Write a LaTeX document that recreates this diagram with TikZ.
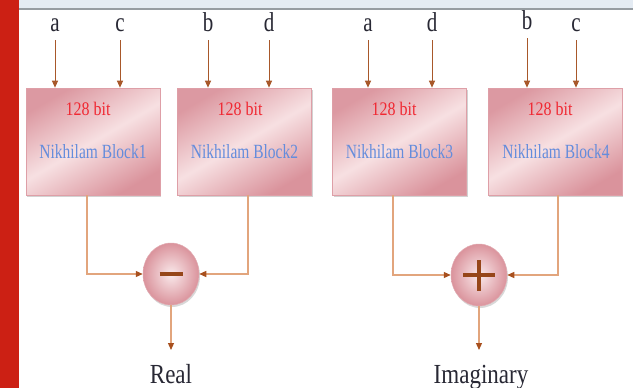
\documentclass[tikz,border=0pt]{standalone}
\usepackage{graphicx}
\usepackage{fontspec}
\setmainfont{Liberation Serif}
\usetikzlibrary{arrows.meta,shapes.geometric,shadows}

\definecolor{barred}{RGB}{204,32,20}
\definecolor{bandblue}{RGB}{228,235,243}
\definecolor{bandline}{RGB}{150,156,162}
\definecolor{inbrown}{RGB}{168,88,42}
\definecolor{connline}{RGB}{226,165,125}
\definecolor{tipbrown}{RGB}{168,80,30}
\definecolor{boxlight}{RGB}{247,224,226}
\definecolor{boxdark}{RGB}{214,135,145}
\definecolor{bitred}{RGB}{240,40,50}
\definecolor{blockblue}{RGB}{100,140,220}
\definecolor{labelink}{RGB}{40,40,52}
\definecolor{signbrown}{RGB}{150,70,25}

% vertically stretched text, as set in the drawing
\newcommand\tallt[2][1.3]{\scalebox{1}[#1]{#2}}

\tikzset{
  blockbox/.style={draw=boxdark!80, line width=0.6pt, minimum width=134pt,
    minimum height=107pt, inner sep=0pt,
    top color=boxdark!85, bottom color=boxdark!90, middle color=boxlight,
    shading angle=30,
    drop shadow={shadow xshift=1pt, shadow yshift=-2pt, opacity=0.35}},
  opcircle/.style={ellipse, minimum width=56pt, minimum height=62pt, inner sep=0pt,
    draw=boxdark!70, line width=0.5pt, shading=radial,
    inner color=boxlight!70!white, outer color=boxdark!90,
    drop shadow={shadow xshift=1pt, shadow yshift=-2pt, opacity=0.3}},
  inlabel/.style={anchor=base, inner sep=0pt, text=labelink,
    font=\fontsize{21}{21}\selectfont},
  outlabel/.style={anchor=base, inner sep=0pt, text=labelink,
    font=\fontsize{23}{23}\selectfont},
  bittext/.style={anchor=base, inner sep=0pt, text=bitred,
    font=\fontsize{16}{16}\selectfont},
  blocktext/.style={anchor=base, inner sep=0pt, text=blockblue,
    font=\fontsize{15.5}{15.5}\selectfont},
  inarrow/.style={draw=inbrown, line width=1pt,
    -{Triangle[length=7pt,width=6pt]}, shorten <=9pt},
  conn/.style={draw=connline, line width=1.2pt,
    -{Triangle[length=7pt,width=6pt,color=tipbrown]}},
  signbar/.style={draw=signbrown, line width=4pt},
}

\begin{document}
\begin{tikzpicture}[x=1pt,y=-1pt]
\useasboundingbox (0,0) rectangle (633,388);
\fill[white] (0,0) rectangle (633,388);

% page frame: red margin bar and header band
\fill[barred] (0,0) rectangle (19,388);
\fill[bandblue] (19,0) rectangle (633,8);
\fill[bandline] (19,8) rectangle (633,10);

% multiplier blocks
\node[blockbox] (b1) at (93,141.5) {};
\node[blockbox] (b2) at (244.5,141.5) {};
\node[blockbox] (b3) at (399.5,141.5) {};
\node[blockbox] (b4) at (555,141.5) {};

\node[bittext] (bit1) at (88,115) {\tallt[1.2]{128 bit}};
\node[bittext] (bit2) at (240,115) {\tallt[1.2]{128 bit}};
\node[bittext] (bit3) at (394,115) {\tallt[1.2]{128 bit}};
\node[bittext] (bit4) at (550,115) {\tallt[1.2]{128 bit}};

\node[blocktext] (nb1) at (93,158) {\tallt{Nikhilam Block1}};
\node[blocktext] (nb2) at (244.5,158) {\tallt{Nikhilam Block2}};
\node[blocktext] (nb3) at (399.5,158) {\tallt{Nikhilam Block3}};
\node[blocktext] (nb4) at (556,158) {\tallt{Nikhilam Block4}};

% operand inputs
\node[inlabel] (i1a) at (55,31) {\tallt{a}};
\node[inlabel] (i1c) at (120,31) {\tallt{c}};
\node[inlabel] (i2b) at (208,31) {\tallt{b}};
\node[inlabel] (i2d) at (269,31) {\tallt{d}};
\node[inlabel] (i3a) at (368,31) {\tallt{a}};
\node[inlabel] (i3d) at (432,31) {\tallt{d}};
\node[inlabel] (i4b) at (527,29) {\tallt{b}};
\node[inlabel] (i4c) at (576,31) {\tallt{c}};

\draw[inarrow] (i1a) -- (i1a |- b1.north);
\draw[inarrow] (i1c) -- (i1c |- b1.north);
\draw[inarrow] (i2b) -- (i2b |- b2.north);
\draw[inarrow] (i2d) -- (i2d |- b2.north);
\draw[inarrow] (i3a) -- (i3a |- b3.north);
\draw[inarrow] (i3d) -- (i3d |- b3.north);
\draw[inarrow] (i4b) -- (i4b |- b4.north);
\draw[inarrow] (i4c) -- (i4c |- b4.north);

% subtractor and adder
\node[opcircle] (sub) at (171,274) {};
\node[opcircle] (add) at (479,275) {};
\draw[signbar] ([xshift=-11.5pt]sub.center) -- ([xshift=11.5pt]sub.center);
\draw[signbar] ([xshift=-16pt]add.center) -- ([xshift=16pt]add.center);
\draw[signbar] ([yshift=-15.5pt]add.center) -- ([yshift=15.5pt]add.center);

% block outputs into the combiners
\draw[conn] ([xshift=-6pt]b1.south) |- (sub.west);
\draw[conn] ([xshift=3.5pt]b2.south) |- (sub.east);
\draw[conn] ([xshift=-6.5pt]b3.south) |- (add.west);
\draw[conn] ([xshift=3pt]b4.south) |- (add.east);

% results
\coordinate (realtip) at (171,350);
\coordinate (imagtip) at (479,350);
\draw[conn] (sub.south) -- (realtip);
\draw[conn] (add.south) -- (imagtip);
\node[outlabel] (real) at (171,383) {\tallt[1.2]{Real}};
\node[outlabel] (imag) at (481,383) {\tallt[1.2]{Imaginary}};
\end{tikzpicture}
\end{document}
